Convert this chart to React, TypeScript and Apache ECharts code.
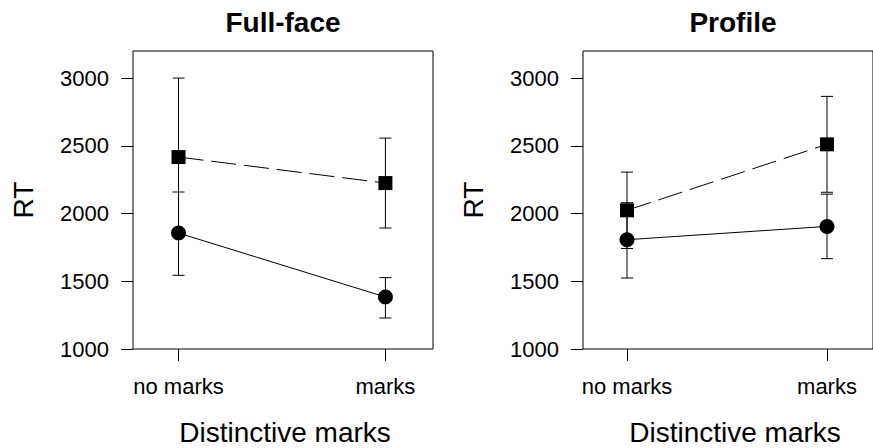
import React, { useEffect, useRef } from 'react';
import * as echarts from 'echarts';

const categories = ['no marks', 'marks'];
const xPositions = [1, 2];
const yTicks = [1000, 1500, 2000, 2500, 3000];
const panelTitles = ['Full-face', 'Profile'];
const xAxisTitle = 'Distinctive marks';
const yAxisTitle = 'RT';

// Full-face panel
const fullCircleMean = [1856, 1384];
const fullCircleLow = [1544, 1229];
const fullCircleHigh = [2159, 1527];
const fullSquareMean = [2417, 2225];
const fullSquareLow = [1834, 1893];
const fullSquareHigh = [3000, 2557];

// Profile panel
const profCircleMean = [1807, 1905];
const profCircleLow = [1524, 1667];
const profCircleHigh = [2080, 2143];
const profSquareMean = [2024, 2511];
const profSquareLow = [1742, 2157];
const profSquareHigh = [2306, 2865];

const FONT = '"Liberation Sans", Arial, Helvetica, sans-serif';

const panels = [
  {
    circleMean: fullCircleMean, circleLow: fullCircleLow, circleHigh: fullCircleHigh,
    squareMean: fullSquareMean, squareLow: fullSquareLow, squareHigh: fullSquareHigh,
  },
  {
    circleMean: profCircleMean, circleLow: profCircleLow, circleHigh: profCircleHigh,
    squareMean: profSquareMean, squareLow: profSquareLow, squareHigh: profSquareHigh,
  },
];

const GRID_LEFTS = [133, 583];
const GRID_TOP = 51;
const GRID_W = 300;
const GRID_H = 298;

function errRender(params: any, api: any) {
  const x = api.value(0);
  const lo = api.value(1);
  const hi = api.value(2);
  const p1 = api.coord([x, lo]);
  const p2 = api.coord([x, hi]);
  const hw = 6;
  const style = { stroke: '#000', lineWidth: 1 };
  return {
    type: 'group',
    children: [
      { type: 'line', shape: { x1: p1[0], y1: p1[1], x2: p2[0], y2: p2[1] }, style },
      { type: 'line', shape: { x1: p1[0] - hw, y1: p1[1], x2: p1[0] + hw, y2: p1[1] }, style },
      { type: 'line', shape: { x1: p2[0] - hw, y1: p2[1], x2: p2[0] + hw, y2: p2[1] }, style },
    ],
  };
}

export default function App() {
  const ref = useRef<HTMLDivElement>(null);
  useEffect(() => {
    if (!ref.current) return;
    const chart = echarts.init(ref.current, null, { renderer: 'svg' });

    const grids = GRID_LEFTS.map((l) => ({
      left: l, top: GRID_TOP, width: GRID_W, height: GRID_H,
      show: true, borderColor: '#000', borderWidth: 1, backgroundColor: 'transparent',
    }));

    const xAxes = GRID_LEFTS.map((_, i) => ({
      gridIndex: i, type: 'value', min: 0.78, max: 2.23,
      axisLine: { show: false },
      splitLine: { show: false },
      axisTick: { show: true, length: 12, customValues: xPositions, lineStyle: { color: '#000', width: 1 } },
      axisLabel: {
        customValues: xPositions,
        formatter: (v: number) => categories[Math.round(v) - 1] ?? '',
        fontSize: 22, color: '#000', fontFamily: FONT, margin: 26, lineHeight: 22,
      },
    }));

    const yAxes = GRID_LEFTS.map((_, i) => ({
      gridIndex: i, type: 'value', min: 1000, max: 3200,
      axisLine: { show: false },
      splitLine: { show: false },
      axisTick: { show: true, length: 12, customValues: yTicks, lineStyle: { color: '#000', width: 1 } },
      axisLabel: {
        customValues: yTicks,
        formatter: (v: number) => String(v),
        fontSize: 22, color: '#000', fontFamily: FONT, margin: 24,
      },
    }));

    const series: any[] = [];
    panels.forEach((p, i) => {
      series.push({
        type: 'custom', xAxisIndex: i, yAxisIndex: i, renderItem: errRender, z: 1,
        data: xPositions.map((x, k) => [x, p.circleLow[k], p.circleHigh[k]]),
      });
      series.push({
        type: 'custom', xAxisIndex: i, yAxisIndex: i, renderItem: errRender, z: 1,
        data: xPositions.map((x, k) => [x, p.squareLow[k], p.squareHigh[k]]),
      });
      series.push({
        type: 'line', xAxisIndex: i, yAxisIndex: i, z: 3,
        data: xPositions.map((x, k) => [x, p.circleMean[k]]),
        symbol: 'circle', symbolSize: 15,
        itemStyle: { color: '#000' },
        lineStyle: { color: '#000', width: 1 },
      });
      series.push({
        type: 'line', xAxisIndex: i, yAxisIndex: i, z: 3,
        data: xPositions.map((x, k) => [x, p.squareMean[k]]),
        symbol: 'rect', symbolSize: 14,
        itemStyle: { color: '#000' },
        lineStyle: { color: '#000', width: 1, type: [25, 8] },
      });
    });

    const graphic: any[] = [];
    GRID_LEFTS.forEach((l, i) => {
      const cx = l + GRID_W / 2;
      graphic.push({
        type: 'text', x: cx, y: 22,
        style: { text: panelTitles[i], font: `bold 28px ${FONT}`, fill: '#000', textAlign: 'center', textVerticalAlign: 'middle' },
      });
      graphic.push({
        type: 'text', x: cx + 2, y: 432,
        style: { text: xAxisTitle, font: `28px ${FONT}`, fill: '#000', textAlign: 'center', textVerticalAlign: 'middle' },
      });
      graphic.push({
        type: 'text', x: l - 110, y: GRID_TOP + GRID_H / 2, rotation: Math.PI / 2,
        style: { text: yAxisTitle, font: `28px ${FONT}`, fill: '#000', textAlign: 'center', textVerticalAlign: 'middle' },
      });
    });

    chart.setOption({
      animation: false,
      backgroundColor: '#fff',
      grid: grids,
      xAxis: xAxes,
      yAxis: yAxes,
      series,
      graphic,
    });
    return () => chart.dispose();
  }, []);
  return (
    <div
      ref={ref}
      style={{ position: 'fixed', left: 0, top: 0, width: 873, height: 448 }}
    />
  );
}
